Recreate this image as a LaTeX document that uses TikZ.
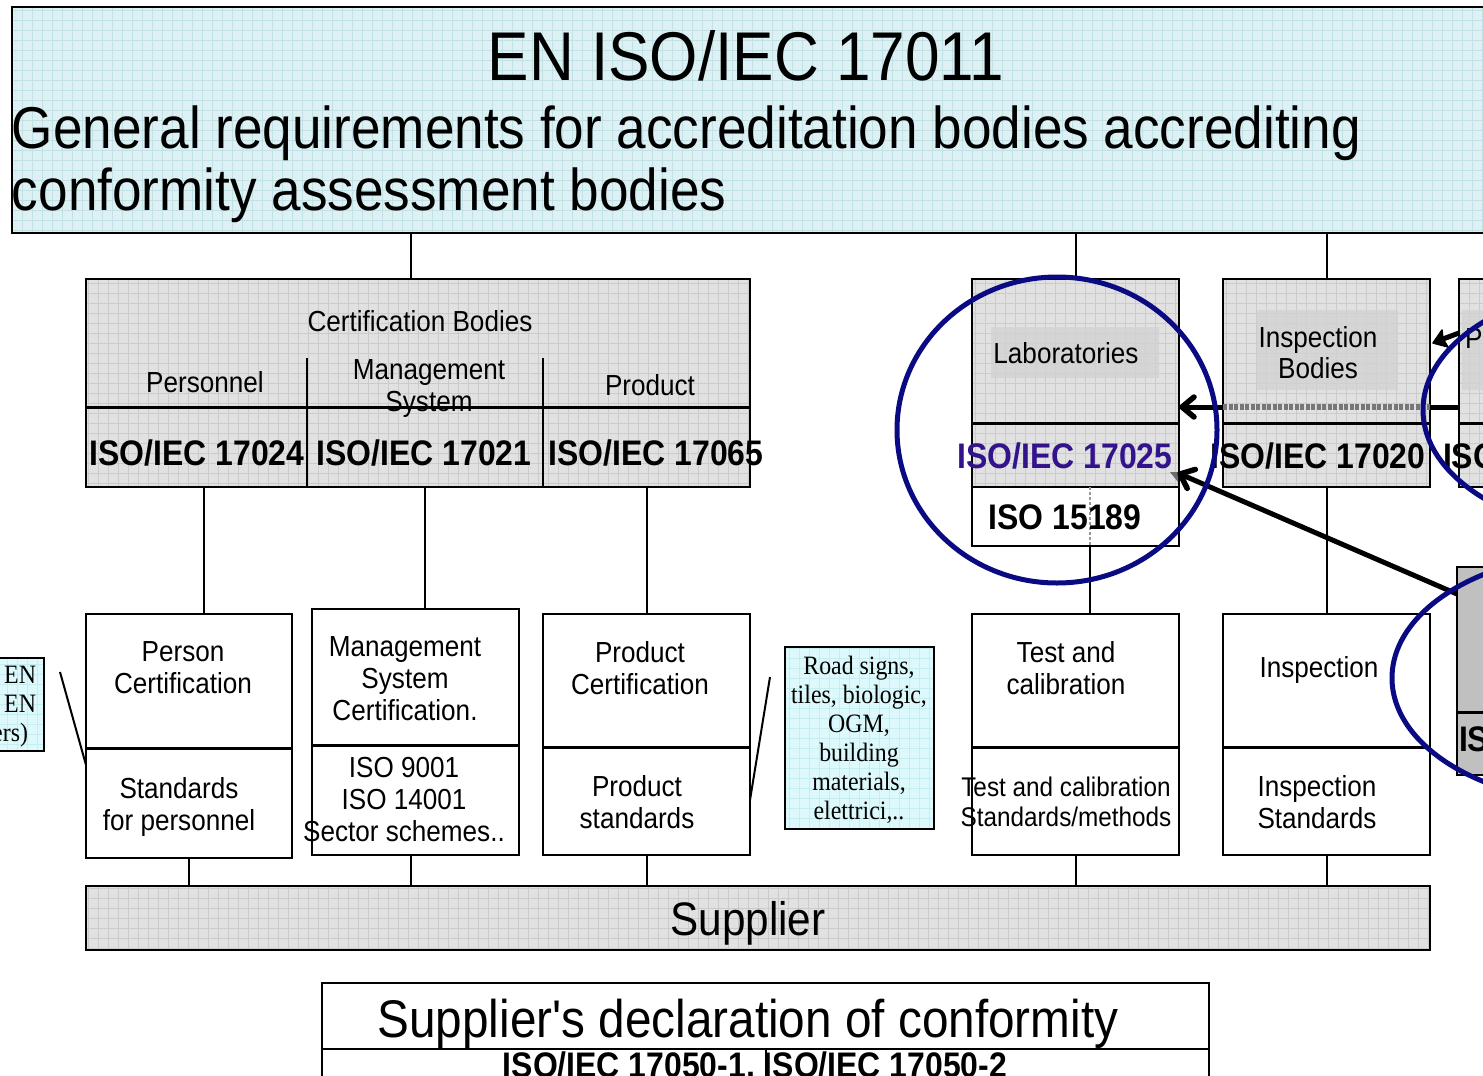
\documentclass[tikz,border=0pt]{standalone}
\usepackage{fontspec}
\setmainfont[FakeStretch=0.9]{Liberation Sans}
\newfontfamily\plainquote[FakeStretch=0.9, Ligatures=TeXOff]{Liberation Sans}
\newfontfamily\notefont[FakeStretch=0.9]{Liberation Serif}

\definecolor{boxgray}{HTML}{E1E1E1}
\definecolor{gridgray}{HTML}{CBCBCB}
\definecolor{labelgray}{HTML}{D2D2D2}
\definecolor{boxcyan}{HTML}{DDF0F3}
\definecolor{gridcyan}{HTML}{C2E1E5}
\definecolor{notecyan}{HTML}{DEF9FB}
\definecolor{gridnote}{HTML}{C6EDF1}
\definecolor{ringblue}{HTML}{0A0A82}
\definecolor{isopurple}{HTML}{33138C}
\definecolor{solidgray}{HTML}{C0C0C0}
\definecolor{checkgray}{HTML}{777777}

% font size and baseline skip, both in pt
\newcommand{\fs}[2]{\fontsize{#1}{#2}\selectfont}

\tikzset{
  box/.style={draw=black, line width=2pt, inner sep=0pt, outer sep=0pt, anchor=north west},
  gridded/.style 2 args={fill=#1, path picture={
      \draw[#2, line width=0.7pt] (path picture bounding box.south west)
        grid[step=10pt] (path picture bounding box.north east);}},
  lbl/.style={inner sep=0pt, outer sep=0pt, anchor=base},
  mlbl/.style={inner sep=0pt, outer sep=0pt, anchor=center, align=center},
  wire/.style={line width=2pt},
  bar/.style={line width=3pt},
  ring/.style={draw=ringblue, line width=5pt},
  shaft/.style={line width=5pt},
  barb/.style={line width=5.5pt, line cap=round, line join=round},
}

\begin{document}
\begin{tikzpicture}[x=1pt, y=-1pt]
\useasboundingbox (0,0) rectangle (1483,1076);
\clip (0,0) rectangle (1483,1076);

% ---------- accreditation standard ----------
\node[box, gridded={boxcyan}{gridcyan}, minimum width=1500pt, minimum height=226pt] (top) at (12,7) {};
\node[lbl, font=\fs{69}{76}] (t1) at (746,80) {EN ISO/IEC 17011};
\node[lbl, anchor=base west, font=\fs{59}{65}] (t2) at (12,148) {General requirements for accreditation bodies accrediting};
\node[lbl, anchor=base west, font=\fs{59}{65}] (t3) at (12,210) {conformity assessment bodies};

% ---------- certification bodies ----------
\node[box, gridded={boxgray}{gridgray}, minimum width=664pt, minimum height=208pt] (cert) at (86,279) {};
\draw[bar] (cert.west |- 0,407) -- (cert.east |- 0,407);
\draw[wire] (307,358) -- (cert.south -| 307,0);
\draw[wire] (543,358) -- (cert.south -| 543,0);
\node[lbl, font=\fs{29}{32}] (certt) at (420,331) {Certification Bodies};
\node[lbl, font=\fs{29}{32}] (pers) at (205,392) {Personnel};
\node[mlbl, font=\fs{29}{32}] (msys) at (429,389) {Management\\System};
\node[lbl, font=\fs{29}{32}] (prodh) at (650,395) {Product};
\node[lbl, font=\bfseries\fs{35.5}{39}] (s24) at (197,465) {ISO/IEC 17024};
\node[lbl, font=\bfseries\fs{35.5}{39}] (s21) at (424,465) {ISO/IEC 17021};
\node[lbl, font=\bfseries\fs{35.5}{39}] (s65) at (656,465) {ISO/IEC 17065};

% ---------- laboratories ----------
\node[box, gridded={boxgray}{gridgray}, minimum width=207pt, minimum height=208pt] (lab) at (972,279) {};
\fill[labelgray, opacity=0.8] (991,327) rectangle (1159,378);
\draw[bar] (lab.west |- 0,423) -- (lab.east |- 0,423);
\node[lbl, font=\fs{29}{32}] (labt) at (1066,363) {Laboratories};
\node[lbl, font=\bfseries\fs{35.5}{39}, text=isopurple] (s25) at (1065,468) {ISO/IEC 17025};
\fill[gray!85!black] (1170,472) -- (1178,472) -- (1178,482) -- cycle;
\node[box, fill=white, minimum width=207pt, minimum height=59pt] (med) at (972,487) {};
\draw[gray!80, line width=1.5pt, dash pattern=on 3pt off 2pt] (med.north -| 1090,0) -- (med.south -| 1090,0);
\node[lbl, font=\bfseries\fs{35.5}{39}] (s89) at (1065,529) {ISO 15189};

% ---------- inspection bodies ----------
\node[box, gridded={boxgray}{gridgray}, minimum width=207pt, minimum height=208pt] (insp) at (1223,279) {};
\fill[labelgray, opacity=0.8] (1257,310) rectangle (1398,390);
\draw[bar] (insp.west |- 0,423) -- (insp.east |- 0,423);
\node[mlbl, font=\fs{29}{31}] (inspt) at (1318,353) {Inspection\\Bodies};
\node[lbl, font=\bfseries\fs{35.5}{39}] (s20) at (1318,468) {ISO/IEC 17020};

% ---------- next body, at the right edge ----------
\node[box, gridded={boxgray}{gridgray}, minimum width=80pt, minimum height=208pt] (pcut) at (1459,279) {};
\fill[labelgray, opacity=0.8] (1462,310) rectangle (1540,390);
\draw[bar] (pcut.west |- 0,423) -- (pcut.east |- 0,423);
\node[lbl, anchor=base west, font=\fs{29}{32}] (pt) at (1465,348) {P};
\node[lbl, anchor=base west, font=\bfseries\fs{35.5}{39}] (pisos) at (1443,468) {ISO};

\node[box, fill=solidgray, minimum width=80pt, minimum height=208pt] (lowcut) at (1457,567) {};
\draw[bar] (lowcut.west |- 0,712) -- (lowcut.east |- 0,712);
\node[lbl, anchor=base west, font=\bfseries\fs{35.5}{39}] (lis) at (1459,751) {IS};

% ---------- schemes ----------
\node[box, fill=white, minimum width=206pt, minimum height=244pt] (person) at (86,614) {};
\draw[bar] (person.west |- 0,748) -- (person.east |- 0,748);
\node[mlbl, font=\fs{29}{32}] (persa) at (183,668) {Person\\Certification};
\node[mlbl, font=\fs{29}{32}] (persb) at (179,807) {Standards\\for personnel};

\node[box, fill=white, minimum width=207pt, minimum height=246pt] (mgmt) at (312,609) {};
\draw[bar] (mgmt.west |- 0,745) -- (mgmt.east |- 0,745);
\node[mlbl, font=\fs{29}{32}] (mgmta) at (405,679) {Management\\System\\Certification.};
\node[mlbl, font=\fs{29}{32}] (mgmtb) at (404,800) {ISO 9001\\ISO 14001\\Sector schemes..};

\node[box, fill=white, minimum width=207pt, minimum height=241pt] (prod) at (543,614) {};
\draw[bar] (prod.west |- 0,747) -- (prod.east |- 0,747);
\node[mlbl, font=\fs{29}{32}] (proda) at (640,668) {Product\\Certification};
\node[mlbl, font=\fs{29}{32}] (prodb) at (637,802) {Product\\standards};

\node[box, fill=white, minimum width=207pt, minimum height=241pt] (test) at (972,614) {};
\draw[bar] (test.west |- 0,747) -- (test.east |- 0,747);
\node[mlbl, font=\fs{29}{32}] (testa) at (1066,668) {Test and\\calibration};
\node[mlbl, font=\fs{27}{29.5}] (testb) at (1066,802) {Test and calibration\\Standards/methods};

\node[box, fill=white, minimum width=207pt, minimum height=241pt] (inspn) at (1223,614) {};
\draw[bar] (inspn.west |- 0,747) -- (inspn.east |- 0,747);
\node[lbl, font=\fs{29}{32}] (inspna) at (1319,677) {Inspection};
\node[mlbl, font=\fs{29}{32}] (inspnb) at (1317,802) {Inspection\\Standards};

% ---------- notes ----------
\node[box, gridded={notecyan}{gridnote}, minimum width=149pt, minimum height=182pt] (roads) at (785,647) {};
\node[mlbl, font=\notefont\fs{26.5}{29}] (roadst) at (859,740)
  {Road signs,\\tiles, biologic,\\OGM,\\building\\materials,\\elettrici,..};
\node[box, gridded={notecyan}{gridnote}, minimum width=74pt, minimum height=93pt] (leftnote) at (-30,658) {};
\node[lbl, anchor=base east, font=\notefont\fs{26.5}{29}] (en1) at (36,683) {EN};
\node[lbl, anchor=base east, font=\notefont\fs{26.5}{29}] (en2) at (36,712) {EN};
\node[lbl, anchor=base east, font=\notefont\fs{26.5}{29}] (en3) at (28,741) {ers)};

\draw[wire] (leftnote.east |- 0,672) ++(16,0) -- (person.west |- 0,765);
\draw[wire] (roads.west |- 0,677) ++(-15,0) -- (prod.east |- 0,800);

% ---------- supplier ----------
\node[box, gridded={boxgray}{gridgray}, minimum width=1344pt, minimum height=64pt] (supp) at (86,886) {};
\node[lbl, font=\fs{47}{52}] (suppt) at (748,935) {Supplier};

\node[box, fill=white, minimum width=887pt, minimum height=130pt] (decl) at (322,983) {};
\draw[wire] (decl.west |- 0,1049) -- (decl.east |- 0,1049);
\node[lbl, font=\plainquote\fs{53}{58}] (declt) at (748,1037) {Supplier's declaration of conformity};
\node[lbl, font=\bfseries\fs{35.5}{39}] (decls) at (755,1077) {ISO/IEC 17050-1, ISO/IEC 17050-2};
\draw[line width=1.5pt] (766,1049) -- (766,1076);

% ---------- connectors ----------
\draw[wire] (top.south -| 411,0) -- (cert.north -| 411,0);
\draw[wire] (top.south -| 1076,0) -- (lab.north -| 1076,0);
\draw[wire] (top.south -| 1327,0) -- (insp.north -| 1327,0);
\draw[wire] (cert.south -| 204,0) -- (person.north -| 204,0);
\draw[wire] (cert.south -| 425,0) -- (mgmt.north -| 425,0);
\draw[wire] (cert.south -| 647,0) -- (prod.north -| 647,0);
\draw[wire] (med.south -| 1090,0) -- (test.north -| 1090,0);
\draw[wire] (insp.south -| 1327,0) -- (inspn.north -| 1327,0);
\draw[wire] (person.south -| 189,0) -- (supp.north -| 189,0);
\draw[wire] (mgmt.south -| 411,0) -- (supp.north -| 411,0);
\draw[wire] (prod.south -| 647,0) -- (supp.north -| 647,0);
\draw[wire] (test.south -| 1076,0) -- (supp.north -| 1076,0);
\draw[wire] (inspn.south -| 1327,0) -- (supp.north -| 1327,0);

% ---------- references between bodies ----------
\coordinate (tipA) at ([xshift=3pt]lab.east |- 0,407);
\coordinate (tipB) at ([xshift=1pt]lab.east |- 0,474);
\coordinate (tipC) at ([xshift=3pt]insp.east |- 0,343);
\draw[shaft] (pcut.west |- 0,407) -- (insp.east |- 0,407);
\draw[checkgray, line width=6pt, dash pattern=on 4pt off 1.5pt] (insp.west |- 0,407) -- (insp.east |- 0,407);
\draw[shaft] (insp.west |- 0,407) -- (tipA);
\draw[barb] ([shift={(12,-10)}]tipA) -- (tipA) -- ([shift={(12,10)}]tipA);
\draw[shaft] (lowcut.west |- 0,594) -- (tipB);
\draw[barb] ([shift={(7.2,14.3)}]tipB) -- (tipB) -- ([shift={(15.3,-4.6)}]tipB);
\draw[shaft] (pcut.west |- 0,333) -- ([shift={(10,-4)}]tipC);
\fill[line join=round, draw, line width=1.5pt] (tipC) -- ([shift={(15,4)}]tipC) -- ([shift={(10,-4)}]tipC) -- ([shift={(9,-13)}]tipC) -- cycle;

% ---------- highlight rings ----------
\draw[ring] (1057,430) ellipse [x radius=160pt, y radius=153pt];
\draw[ring] (1631,410) ellipse [x radius=208pt, y radius=125pt];
\draw[ring] (1600,678) ellipse [x radius=208pt, y radius=125pt];
\end{tikzpicture}
\end{document}
